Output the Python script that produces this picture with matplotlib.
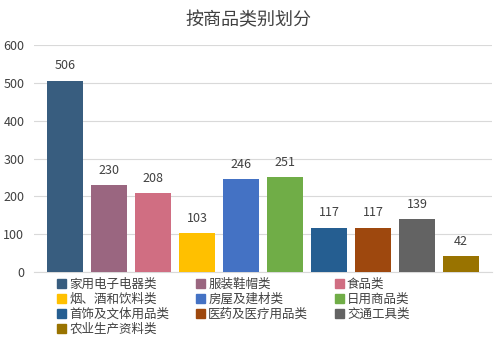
import matplotlib
matplotlib.use("Agg")
from matplotlib import pyplot as plt
from matplotlib.patches import Patch

plt.rcParams["font.family"] = ["Noto Sans CJK SC", "DejaVu Sans"]

categories = [
    "家用电子电器类", "服装鞋帽类", "食品类",
    "烟、酒和饮料类", "房屋及建材类", "日用商品类",
    "首饰及文体用品类", "医药及医疗用品类", "交通工具类",
    "农业生产资料类",
]
values = [506, 230, 208, 103, 246, 251, 117, 117, 139, 42]
colors = [
    "#385D7F", "#9A6680", "#D06E82", "#FFC000", "#4472C4",
    "#70AD47", "#255E91", "#9E480E", "#636363", "#997300",
]
y_ticks = [0, 100, 200, 300, 400, 500, 600]

fig = plt.figure(figsize=(4.96, 3.40), dpi=100)
ax = fig.add_axes([34 / 496, 1 - 272 / 340, 458 / 496, 227 / 340])

x = list(range(len(values)))
ax.bar(x, values, width=0.82, color=colors, zorder=3)
for xi, v in zip(x, values):
    ax.annotate(str(v), (xi, v), xytext=(0, 6), textcoords="offset points",
                ha="center", va="bottom", fontsize=9, color="#404040")

ax.set_xlim(-0.7, 9.7)
ax.set_ylim(0, 600)
ax.set_yticks(y_ticks)
ax.set_xticks([])
ax.tick_params(axis="y", length=0, labelsize=9, labelcolor="#404040", pad=7)
ax.yaxis.grid(True, color="#D9D9D9", linewidth=0.8, zorder=0)
for s in ["top", "right", "left"]:
    ax.spines[s].set_visible(False)
ax.spines["bottom"].set_color("#D9D9D9")

fig.text(0.5, 1 - 20 / 340, "按商品类别划分", ha="center", va="center",
         fontsize=13, color="#404040")

# legend is filled column by column, reorder so it reads row by row
order = [0, 3, 6, 9, 1, 4, 7, 2, 5, 8]
handles = [Patch(color=colors[i], label=categories[i]) for i in order]
fig.legend(handles=handles, ncol=3, loc="upper left",
           bbox_to_anchor=(52 / 496, 1 - 273 / 340), frameon=False,
           fontsize=9, handlelength=0.75, handleheight=0.75, handletextpad=0.25,
           columnspacing=2.1, labelspacing=0.15, borderaxespad=0,
           labelcolor="#404040")

fig.savefig("out.png", dpi=100)
